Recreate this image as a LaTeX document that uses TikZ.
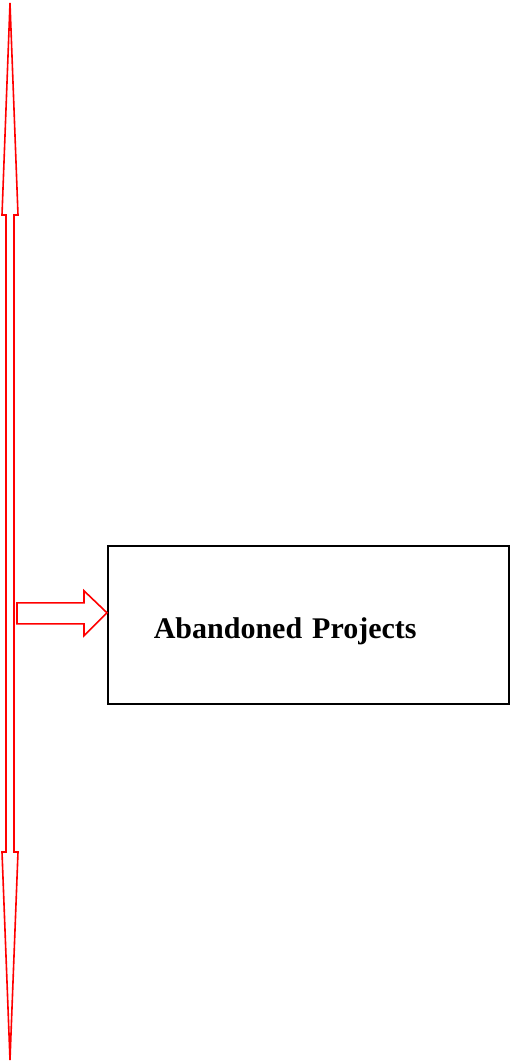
\documentclass[tikz,border=0pt]{standalone}
\usepackage{fontspec}
\setmainfont{Liberation Serif}
\begin{document}
\begin{tikzpicture}[x=1pt,y=-1pt,
  redarrow/.style={draw=red,line width=1.6pt,line join=miter},
  box/.style={draw=black,line width=1.6pt,rectangle,anchor=north west,
    minimum height=158pt,text width=309pt,inner xsep=46pt,inner ysep=0pt,
    text height=28pt,text depth=0pt,
    align=left,font=\fontsize{30}{36}\selectfont\bfseries}]
  \useasboundingbox (0,0) rectangle (509,1063);
  % box on the right
  \node[box] (proj) at (107,545) {Abandoned Projects};
  % vertical double-headed arrow
  \draw[redarrow] (10,3) -- (18,215) -- (14,215) -- (14,852) -- (18,852)
    -- (10,1060) -- (2,852) -- (6,852) -- (6,215) -- (2,215) -- cycle;
  % block arrow pointing into the box
  \coordinate (tip) at ([yshift=12pt]proj.west);
  \draw[redarrow] (tip) -- ([xshift=-23pt,yshift=-23pt]tip) -- ([xshift=-23pt,yshift=-11pt]tip)
    -- ([xshift=-90pt,yshift=-11pt]tip) -- ([xshift=-90pt,yshift=10pt]tip)
    -- ([xshift=-23pt,yshift=10pt]tip) -- ([xshift=-23pt,yshift=22pt]tip) -- cycle;
\end{tikzpicture}
\end{document}
